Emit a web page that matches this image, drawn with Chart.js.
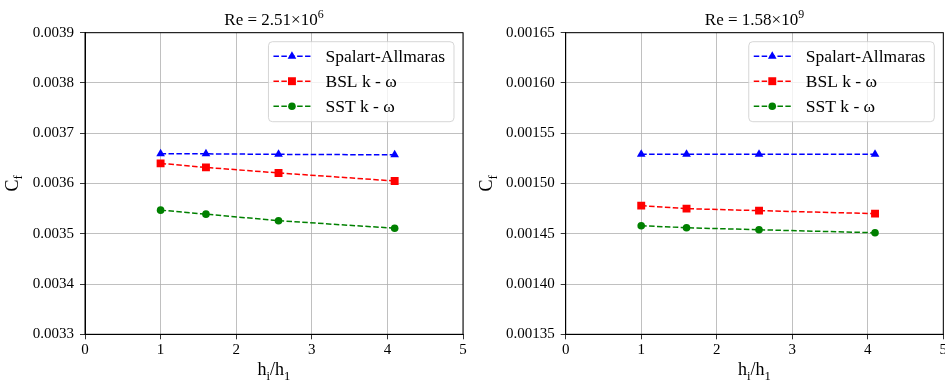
<!DOCTYPE html>
<html lang="en">
<head>
    <meta charset="UTF-8">
    <title>Cf vs h ratio</title>
    <script src="https://cdn.jsdelivr.net/npm/chart.js"></script>
    <style>
        html, body { margin: 0; background: #fff; overflow: hidden; width: 945px; height: 386px; }
        .wrap { position: absolute; top: 0; height: 386px; }
        #leftWrap { left: 0; width: 470px; }
        #rightWrap { left: 475px; width: 490px; }
    </style>
</head>
<body>
    <div class="wrap" id="leftWrap"><canvas id="left" width="470" height="386"></canvas></div>
    <div class="wrap" id="rightWrap"><canvas id="right" width="490" height="386"></canvas></div>

    <script>
        const hRatio = [1, 1.6, 2.56, 4.096];
        const seriesNames = ['Spalart-Allmaras', 'BSL k - ω', 'SST k - ω'];

        // Re = 2.51e6
        const saLow = [0.003659, 0.003659, 0.003658, 0.003657];
        const bslLow = [0.003640, 0.003632, 0.003621, 0.003605];
        const sstLow = [0.003547, 0.003539, 0.003526, 0.003511];
        const yTicksLow = [0.0033, 0.0034, 0.0035, 0.0036, 0.0037, 0.0038, 0.0039];

        // Re = 1.58e9
        const saHigh = [0.001529, 0.001529, 0.001529, 0.001529];
        const bslHigh = [0.001478, 0.001475, 0.001473, 0.001470];
        const sstHigh = [0.001458, 0.001456, 0.001454, 0.001451];
        const yTicksHigh = [0.00135, 0.00140, 0.00145, 0.00150, 0.00155, 0.00160, 0.00165];

        const xTicks = [0, 1, 2, 3, 4, 5];

        const SERIF = '"Liberation Serif", "Times New Roman", serif';
        const styles = [
            { color: '#0000ff', point: 'triangle', r: 5 },
            { color: '#ff0000', point: 'rect', r: 5.6 },
            { color: '#008000', point: 'circle', r: 3.8 }
        ];

        // draw text made of pieces, some raised or lowered
        function richText(ctx, parts, x, y, size, align) {
            const widths = [];
            let total = 0;
            parts.forEach(p => {
                ctx.font = (p.shift ? size * 0.7 : size) + 'px ' + SERIF;
                const w = ctx.measureText(p.t).width;
                widths.push(w);
                total += w;
            });
            let cx = align === 'center' ? x - total / 2 : x;
            ctx.textAlign = 'left';
            ctx.textBaseline = 'alphabetic';
            parts.forEach((p, i) => {
                ctx.font = (p.shift ? size * 0.7 : size) + 'px ' + SERIF;
                ctx.fillText(p.t, cx, y + (p.shift || 0) * size);
                cx += widths[i];
            });
        }

        function decoPlugin(title, ylabelX) {
            return {
                id: 'deco',
                afterDraw(chart) {
                    const ctx = chart.ctx;
                    const a = chart.chartArea;
                    ctx.save();
                    // top and right spines
                    ctx.strokeStyle = '#000';
                    ctx.lineWidth = 1;
                    ctx.strokeRect(a.left, a.top, a.right - a.left, a.bottom - a.top);

                    ctx.fillStyle = '#000';
                    const cx = (a.left + a.right) / 2;
                    richText(ctx, title, cx, 25, 17, 'center');
                    richText(ctx, [{ t: 'h' }, { t: 'i', shift: 0.25 }, { t: '/h' }, { t: '1', shift: 0.25 }], cx, 375, 18, 'center');

                    ctx.save();
                    ctx.translate(ylabelX, (a.top + a.bottom) / 2);
                    ctx.rotate(-Math.PI / 2);
                    richText(ctx, [{ t: 'C' }, { t: 'f', shift: 0.25 }], 0, 0, 18, 'center');
                    ctx.restore();

                    // legend
                    const lf = '17.5px ' + SERIF;
                    ctx.font = lf;
                    const tw = Math.max(...seriesNames.map(n => ctx.measureText(n).width));
                    const bw = 57 + tw + 9, bh = 80;
                    const bx = a.right - 9 - bw, by = a.top + 9;
                    ctx.beginPath();
                    ctx.roundRect(bx, by, bw, bh, 4);
                    ctx.fillStyle = 'rgba(255,255,255,0.8)';
                    ctx.fill();
                    ctx.strokeStyle = 'rgba(204,204,204,0.8)';
                    ctx.stroke();
                    chart.data.datasets.forEach((ds, i) => {
                        const ry = by + 14.5 + i * 25;
                        ctx.strokeStyle = ds.borderColor;
                        ctx.lineWidth = 1.5;
                        ctx.setLineDash([5.5, 2.4]);
                        ctx.beginPath();
                        ctx.moveTo(bx + 5, ry);
                        ctx.lineTo(bx + 42, ry);
                        ctx.stroke();
                        ctx.setLineDash([]);
                        ctx.fillStyle = ds.borderColor;
                        Chart.helpers.drawPoint(ctx, { pointStyle: ds.pointStyle, radius: ds.pointRadius, borderWidth: 0 }, bx + 23.5, ry);
                        ctx.fillStyle = '#000';
                        ctx.font = lf;
                        ctx.textAlign = 'left';
                        ctx.textBaseline = 'middle';
                        ctx.fillText(ds.label, bx + 57, ry + 1);
                    });
                    ctx.restore();
                }
            };
        }

        function makeChart(id, series, yTicks, digits, yWidth, padRight, title, ylabelX) {
            new Chart(document.getElementById(id), {
                type: 'line',
                data: {
                    datasets: series.map((vals, i) => ({
                        label: seriesNames[i],
                        data: hRatio.map((h, j) => ({ x: h, y: vals[j] })),
                        borderColor: styles[i].color,
                        backgroundColor: styles[i].color,
                        borderWidth: 1.5,
                        borderDash: [5.5, 2.4],
                        pointStyle: styles[i].point,
                        pointRadius: styles[i].r,
                        pointBorderWidth: 0,
                        fill: false,
                        tension: 0
                    }))
                },
                options: {
                    responsive: false,
                    animation: false,
                    layout: { padding: { top: 32.7, right: padRight, bottom: 0, left: 0 } },
                    plugins: {
                        legend: { display: false },
                        tooltip: { enabled: false }
                    },
                    scales: {
                        x: {
                            type: 'linear',
                            min: 0, max: 5,
                            afterBuildTicks: s => { s.ticks = xTicks.map(v => ({ value: v })); },
                            afterFit: s => { s.height = 51.7; s.paddingLeft = 0; s.paddingRight = 0; },
                            grid: { color: '#b0b0b0', lineWidth: 0.8, tickColor: '#000', tickLength: 5 },
                            border: { color: '#000', width: 1 },
                            ticks: { color: '#000', font: { family: SERIF, size: 15 }, padding: 2, maxRotation: 0 }
                        },
                        y: {
                            type: 'linear',
                            min: yTicks[0], max: yTicks[yTicks.length - 1],
                            afterBuildTicks: s => { s.ticks = yTicks.map(v => ({ value: v })); },
                            afterFit: s => { s.width = yWidth; s.paddingTop = 0; s.paddingBottom = 0; },
                            grid: { color: '#b0b0b0', lineWidth: 0.8, tickColor: '#000', tickLength: 5 },
                            border: { color: '#000', width: 1 },
                            ticks: {
                                color: '#000', font: { family: SERIF, size: 15 }, padding: 6,
                                callback: v => v.toFixed(digits)
                            }
                        }
                    }
                },
                plugins: [decoPlugin(title, ylabelX)]
            });
        }

        makeChart('left', [saLow, bslLow, sstLow], yTicksLow, 4, 85, 7,
            [{ t: 'Re = 2.51×10' }, { t: '6', shift: -0.42 }], 17.5);
        // right canvas runs past the window edge so the last tick label is cut like the original
        makeChart('right', [saHigh, bslHigh, sstHigh], yTicksHigh, 5, 90.7, 21.7,
            [{ t: 'Re = 1.58×10' }, { t: '9', shift: -0.42 }], 17);
    </script>
</body>
</html>
